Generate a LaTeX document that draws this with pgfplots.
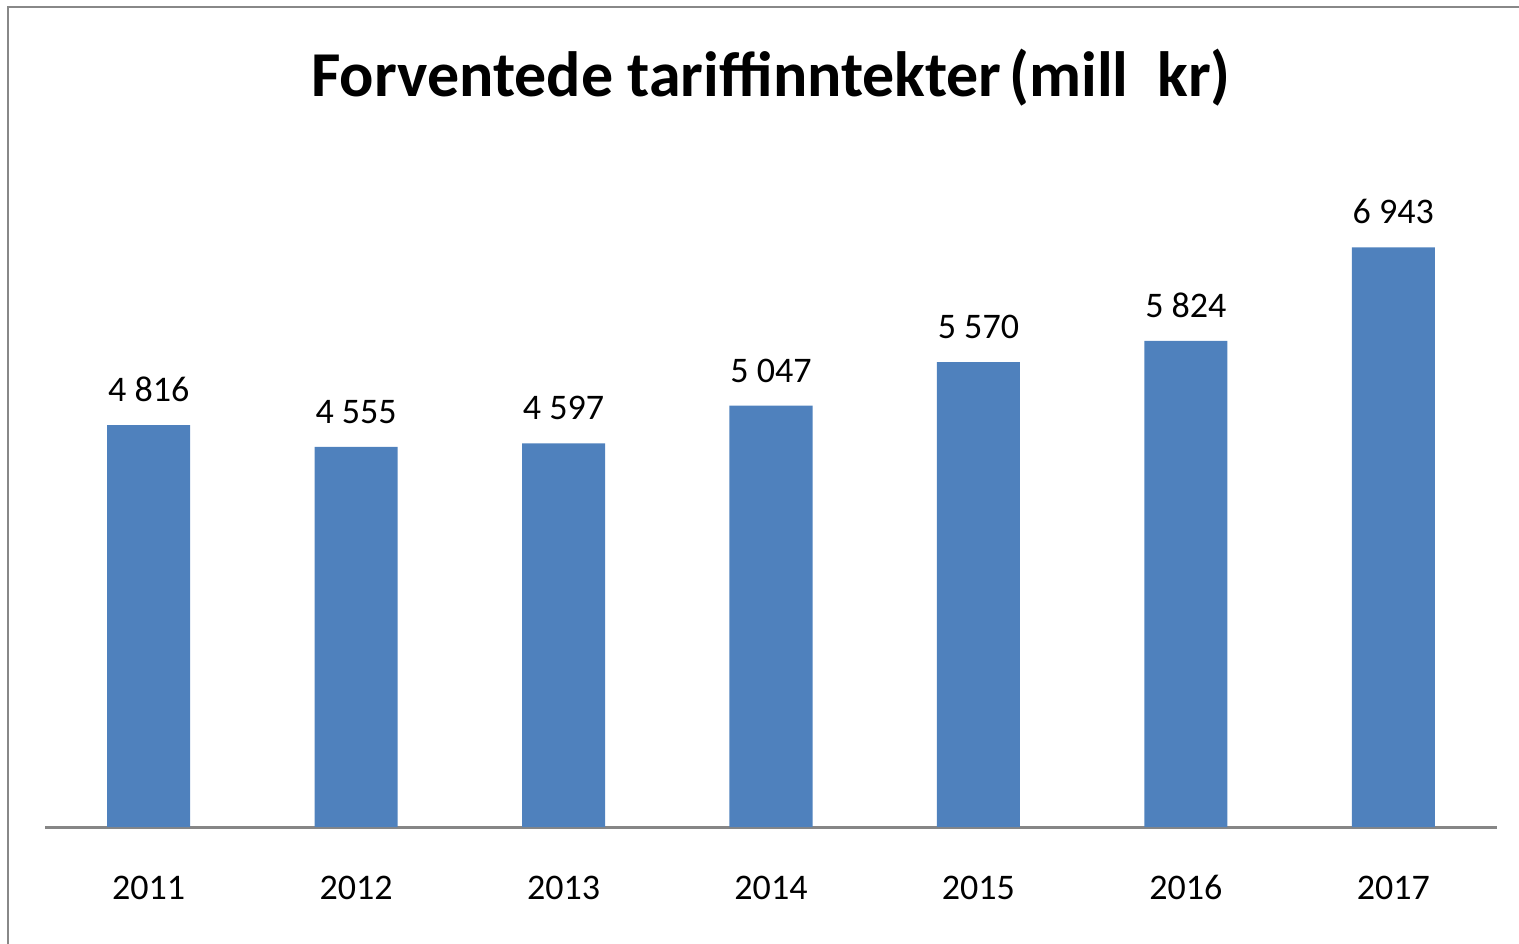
\documentclass[border=0pt]{standalone}
\usepackage{fontspec}
\setmainfont{Carlito}
\usepackage{pgfplots}
\pgfplotsset{compat=1.18}
\definecolor{barblue}{HTML}{4F81BD}
\definecolor{axisgray}{HTML}{868686}
\definecolor{framegray}{HTML}{888888}

\begin{document}
\begin{tikzpicture}
\useasboundingbox (-0.45cm,-1.16cm) rectangle (14.74cm,8.27cm);
\draw[framegray, line width=0.2mm] (-0.365cm,-1.3cm) -- (-0.365cm,8.195cm) -- (15cm,8.195cm);
\begin{axis}[
  at={(0,0)}, anchor=south west,
  scale only axis, width=14.52cm, height=6.678cm,
  ybar, bar width=0.83cm,
  xmin=-0.5, xmax=6.5, ymin=0, ymax=8000,
  xtick=data, xticklabels={2011,2012,2013,2014,2015,2016,2017},
  axis x line=bottom, axis y line=none,
  x axis line style={-, draw=axisgray, line width=0.3mm},
  xtick style={draw=none},
  xticklabel style={font=\fontsize{10.25}{12}\selectfont, inner sep=0pt, anchor=base, yshift=-0.65cm},
  nodes near coords,
  nodes near coords style={font=\fontsize{10.25}{12}\selectfont, inner sep=0pt, text depth=0pt, yshift=0.23cm,
    /pgf/number format/.cd, assume math mode=true, 1000 sep={\ }, fixed, precision=0},
  clip=false,
]
\addplot[fill=barblue, draw=none] coordinates
  {(0,4816)(1,4555)(2,4597)(3,5047)(4,5570)(5,5824)(6,6943)};
\end{axis}
\node[anchor=base, inner sep=0pt, font=\fontsize{18.2}{21}\selectfont\bfseries] at (7.26cm,7.31cm)
  {Forventede tariffinntekter\kern-0.1em\ (mill~~kr)};
\end{tikzpicture}
\end{document}
